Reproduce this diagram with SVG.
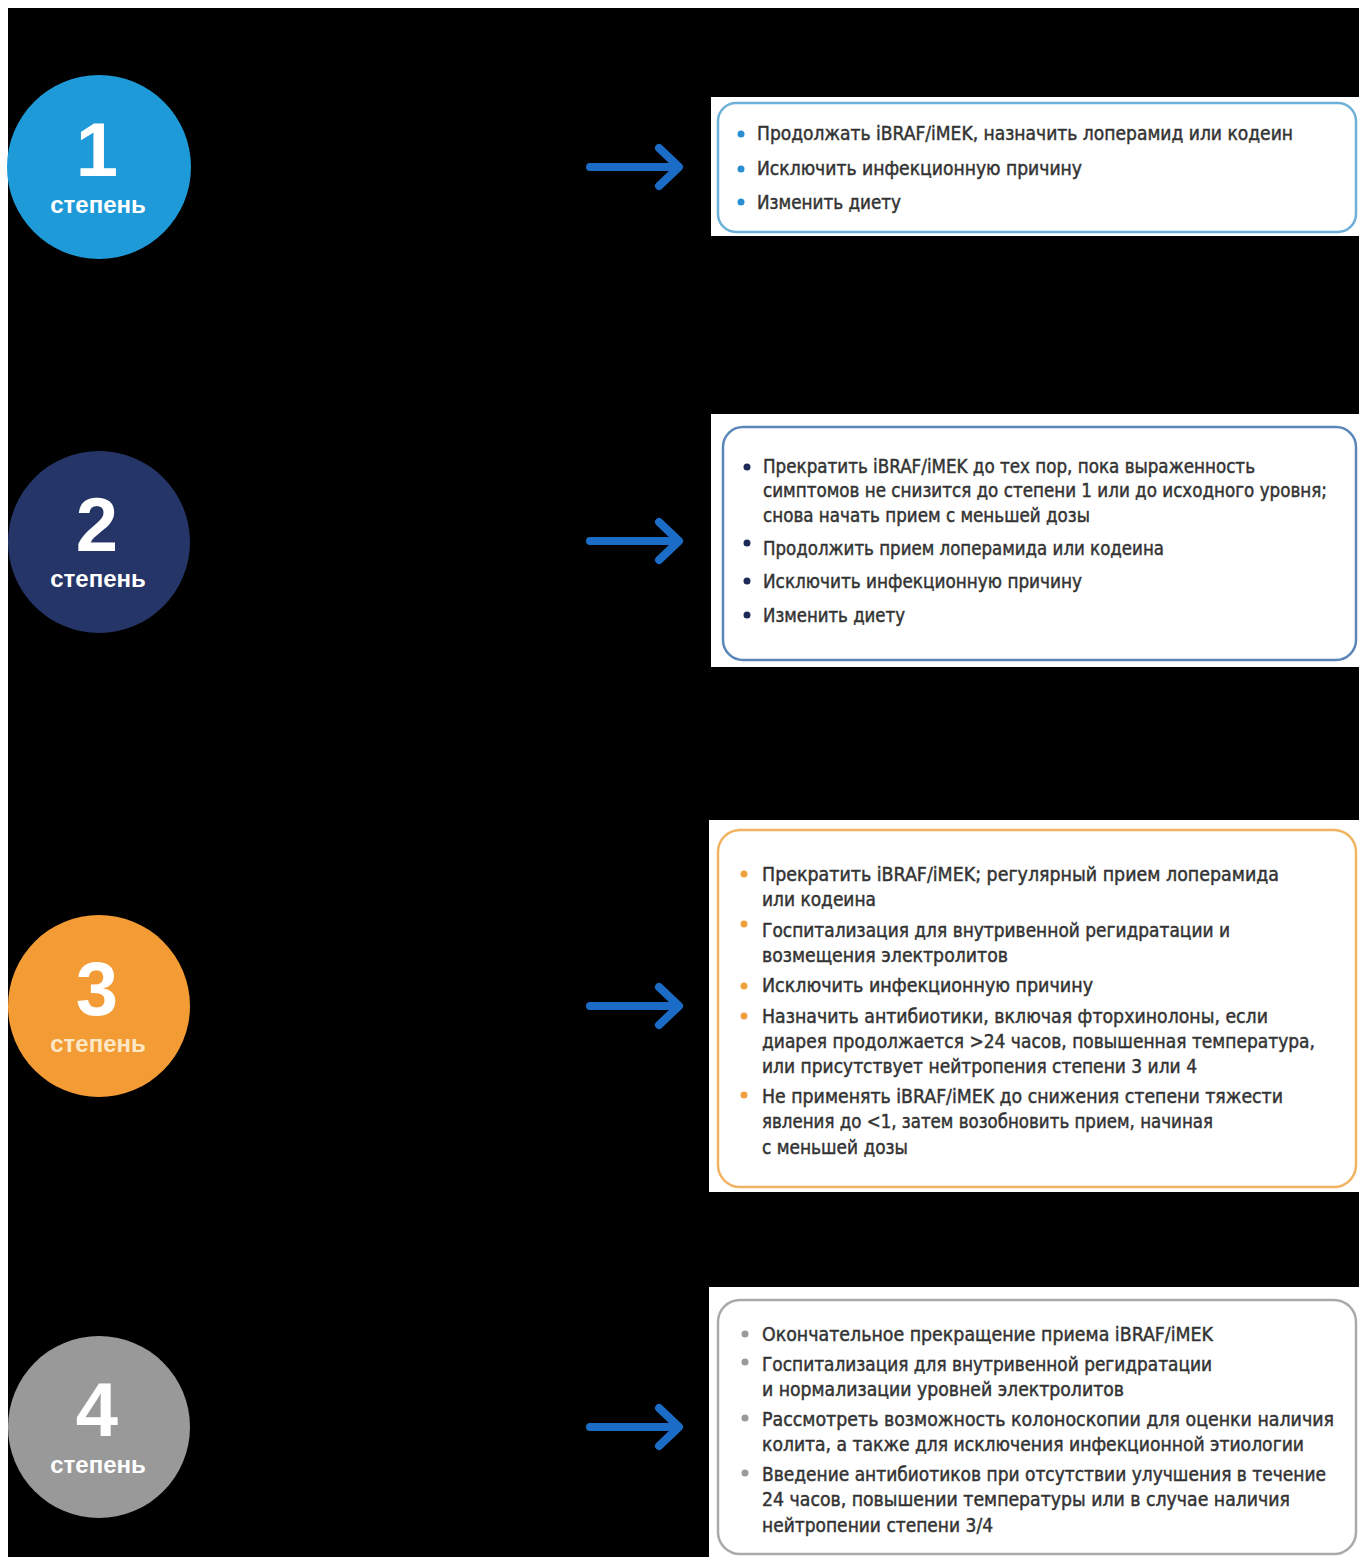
<svg xmlns="http://www.w3.org/2000/svg" width="1359" height="1557" viewBox="0 0 1359 1557">
<defs>
<style>
.bg{fill:#000}
.card{fill:#fff}
.frame{fill:none;stroke-width:2.5}
.t{font-family:"Liberation Sans Narrow","DejaVu Sans Condensed","Liberation Sans",sans-serif;font-size:20px;fill:#333;stroke:#333;stroke-width:0.45}
.num{font-family:"Liberation Sans","Arial",sans-serif;font-weight:bold;font-size:76px;fill:#fff;text-anchor:middle}
.lbl{font-family:"Liberation Sans","Arial",sans-serif;font-weight:bold;font-size:24px;fill:#fff;text-anchor:middle}
.arr{fill:none;stroke:#1b6cc6;stroke-width:8;stroke-linecap:round;stroke-linejoin:round}
</style>
</defs>
<rect x="0" y="0" width="1359" height="1557" fill="#fff"/>
<rect class="bg" x="8" y="8" width="1351" height="1549"/>

<g id="grade1">
<circle cx="99" cy="167" r="92" fill="#1f9ad8"/>
<text class="num" x="97" y="176">1</text>
<text class="lbl" x="98" y="213">степень</text>
</g>
<g id="grade2">
<circle cx="99" cy="542" r="91" fill="#253567"/>
<text class="num" x="97" y="551">2</text>
<text class="lbl" x="98" y="587">степень</text>
</g>
<g id="grade3">
<circle cx="99" cy="1006" r="91" fill="#f39b34"/>
<text class="num" x="97" y="1015">3</text>
<text class="lbl" x="98" y="1052" style="fill:#fde8c6">степень</text>
</g>
<g id="grade4">
<circle cx="99" cy="1427" r="91" fill="#999999"/>
<text class="num" x="97" y="1436">4</text>
<text class="lbl" x="98" y="1473">степень</text>
</g>

<g id="connectors">
<path class="arr" d="M590 167 H674 M659 148 L679 167 L659 186"/>
<path class="arr" d="M590 541 H674 M659 522 L679 541 L659 560"/>
<path class="arr" d="M590 1006 H674 M659 987 L679 1006 L659 1025"/>
<path class="arr" d="M590 1427 H674 M659 1408 L679 1427 L659 1446"/>
</g>

<g id="box1">
<rect class="card" x="711" y="97" width="648" height="139"/>
<rect class="frame" x="718" y="103" width="638" height="129" rx="18" stroke="#6fb0d8"/>
<g fill="#2a8fd0">
<circle cx="741" cy="134" r="3.5"/><circle cx="741" cy="169" r="3.5"/><circle cx="741" cy="202" r="3.5"/>
</g>
<text class="t" x="757" y="140" textLength="536" lengthAdjust="spacingAndGlyphs">Продолжать iBRAF/iMEK, назначить лоперамид или кодеин</text>
<text class="t" x="757" y="175" textLength="325" lengthAdjust="spacingAndGlyphs">Исключить инфекционную причину</text>
<text class="t" x="757" y="209" textLength="144" lengthAdjust="spacingAndGlyphs">Изменить диету</text>
</g>

<g id="box2">
<rect class="card" x="711" y="414" width="648" height="253"/>
<rect class="frame" x="723" y="427" width="633" height="233" rx="20" stroke="#5b86b8"/>
<g fill="#1e2a58">
<circle cx="747" cy="467" r="3.5"/><circle cx="747" cy="543" r="3.5"/><circle cx="747" cy="581" r="3.5"/><circle cx="747" cy="615" r="3.5"/>
</g>
<text class="t" x="763" y="473" textLength="492" lengthAdjust="spacingAndGlyphs">Прекратить iBRAF/iMEK до тех пор, пока выраженность</text>
<text class="t" x="763" y="497" textLength="564" lengthAdjust="spacingAndGlyphs" style="font-size:19.5px">симптомов не снизится до степени 1 или до исходного уровня;</text>
<text class="t" x="763" y="522" textLength="327" lengthAdjust="spacingAndGlyphs">снова начать прием с меньшей дозы</text>
<text class="t" x="763" y="555" textLength="401" lengthAdjust="spacingAndGlyphs">Продолжить прием лоперамида или кодеина</text>
<text class="t" x="763" y="588" textLength="319" lengthAdjust="spacingAndGlyphs">Исключить инфекционную причину</text>
<text class="t" x="763" y="622" textLength="142" lengthAdjust="spacingAndGlyphs">Изменить диету</text>
</g>

<g id="box3">
<rect class="card" x="709" y="820" width="650" height="372"/>
<rect class="frame" x="718" y="830" width="638" height="357" rx="22" stroke="#f2b463"/>
<g fill="#f0a03e">
<circle cx="744" cy="874" r="3.5"/><circle cx="744" cy="924" r="3.5"/><circle cx="744" cy="986" r="3.5"/><circle cx="744" cy="1016" r="3.5"/><circle cx="744" cy="1095" r="3.5"/>
</g>
<text class="t" x="762" y="881" textLength="517" lengthAdjust="spacingAndGlyphs">Прекратить iBRAF/iMEK; регулярный прием лоперамида</text>
<text class="t" x="762" y="906" textLength="114" lengthAdjust="spacingAndGlyphs">или кодеина</text>
<text class="t" x="762" y="937" textLength="468" lengthAdjust="spacingAndGlyphs">Госпитализация для внутривенной регидратации и</text>
<text class="t" x="762" y="962" textLength="246" lengthAdjust="spacingAndGlyphs">возмещения электролитов</text>
<text class="t" x="762" y="992" textLength="331" lengthAdjust="spacingAndGlyphs">Исключить инфекционную причину</text>
<text class="t" x="762" y="1023" textLength="506" lengthAdjust="spacingAndGlyphs">Назначить антибиотики, включая фторхинолоны, если</text>
<text class="t" x="762" y="1048" textLength="553" lengthAdjust="spacingAndGlyphs">диарея продолжается &gt;24 часов, повышенная температура,</text>
<text class="t" x="762" y="1073" textLength="435" lengthAdjust="spacingAndGlyphs">или присутствует нейтропения степени 3 или 4</text>
<text class="t" x="762" y="1103" textLength="521" lengthAdjust="spacingAndGlyphs">Не применять iBRAF/iMEK до снижения степени тяжести</text>
<text class="t" x="762" y="1128" textLength="451" lengthAdjust="spacingAndGlyphs">явления до &lt;1, затем возобновить прием, начиная</text>
<text class="t" x="762" y="1154" textLength="146" lengthAdjust="spacingAndGlyphs">с меньшей дозы</text>
</g>

<g id="box4">
<rect class="card" x="709" y="1287" width="650" height="270"/>
<rect class="frame" x="718" y="1300" width="638" height="254" rx="22" stroke="#aaaaaa"/>
<g fill="#9a9a9a">
<circle cx="745" cy="1334" r="3.5"/><circle cx="745" cy="1362" r="3.5"/><circle cx="745" cy="1418" r="3.5"/><circle cx="745" cy="1473" r="3.5"/>
</g>
<text class="t" x="762" y="1341" textLength="451" lengthAdjust="spacingAndGlyphs">Окончательное прекращение приема iBRAF/iMEK</text>
<text class="t" x="762" y="1371" textLength="450" lengthAdjust="spacingAndGlyphs">Госпитализация для внутривенной регидратации</text>
<text class="t" x="762" y="1396" textLength="362" lengthAdjust="spacingAndGlyphs">и нормализации уровней электролитов</text>
<text class="t" x="762" y="1426" textLength="572" lengthAdjust="spacingAndGlyphs">Рассмотреть возможность колоноскопии для оценки наличия</text>
<text class="t" x="762" y="1451" textLength="542" lengthAdjust="spacingAndGlyphs">колита, а также для исключения инфекционной этиологии</text>
<text class="t" x="762" y="1481" textLength="564" lengthAdjust="spacingAndGlyphs">Введение антибиотиков при отсутствии улучшения в течение</text>
<text class="t" x="762" y="1506" textLength="528" lengthAdjust="spacingAndGlyphs">24 часов, повышении температуры или в случае наличия</text>
<text class="t" x="762" y="1532" textLength="231" lengthAdjust="spacingAndGlyphs">нейтропении степени 3/4</text>
</g>
</svg>
